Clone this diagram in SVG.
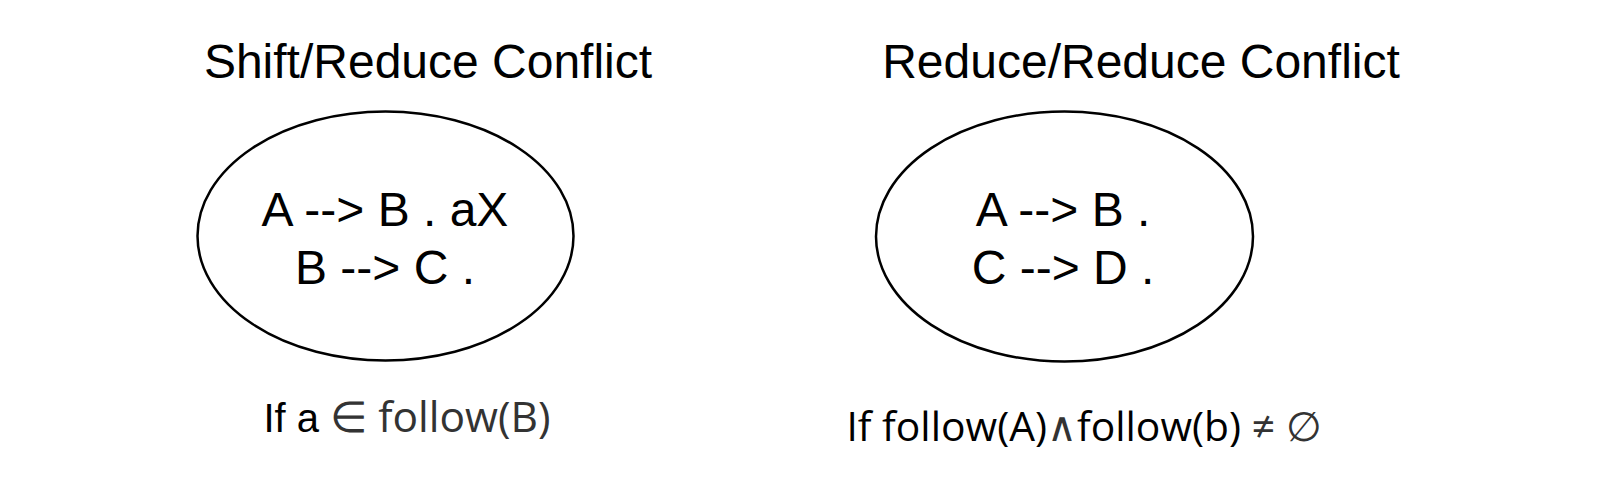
<svg xmlns="http://www.w3.org/2000/svg" width="1600" height="486" viewBox="0 0 1600 486">
<style>
.t{font-family:"Liberation Sans",Arial,sans-serif;fill:#000;text-anchor:middle}
.node{fill:#fff;stroke:#000;stroke-width:2.5}
.g{fill:#333}
.o{font-family:"Open Sans","Noto Sans",sans-serif}
</style>
<rect width="1600" height="486" fill="#fff"/>
<g id="connectors"/>
<g id="title-sr"><text class="t" x="428" y="78" font-size="48">Shift/Reduce Conflict</text></g>
<g id="title-rr"><text class="t" x="1141" y="78" font-size="48">Reduce/Reduce Conflict</text></g>
<g id="node-sr">
<ellipse class="node" cx="385.5" cy="236" rx="188" ry="124.5"/>
<text class="t" x="385" y="226" font-size="48">A --&gt; B . aX</text>
<text class="t" x="385" y="284" font-size="48">B --&gt; C .</text>
</g>
<g id="node-rr">
<ellipse class="node" cx="1064.5" cy="236.5" rx="188.5" ry="125"/>
<text class="t" x="1063" y="226" font-size="48">A --&gt; B .</text>
<text class="t" x="1063" y="284" font-size="48">C --&gt; D .</text>
</g>
<g id="cond-sr"><text class="t" x="407" y="432" font-size="40">If a <tspan class="g o" font-size="42.5">∈ follow(B)</tspan></text></g>
<g id="cond-rr"><text class="t o" x="1084" y="441" font-size="40.8">If follow(A)<tspan class="g">∧</tspan>follow(b) <tspan class="g">≠ ∅</tspan></text></g>
</svg>
